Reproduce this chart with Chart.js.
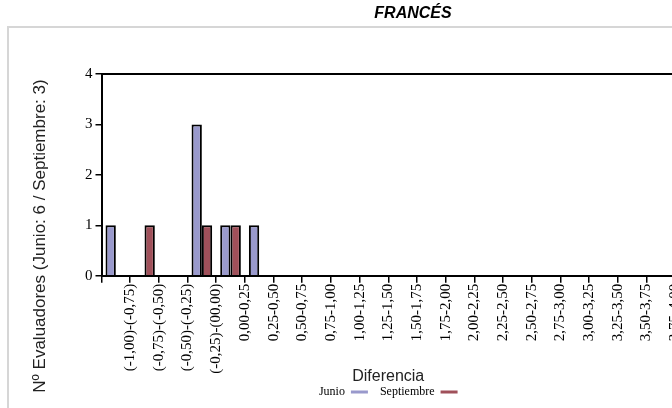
<!DOCTYPE html>
<html lang="es">
<head>
<meta charset="utf-8">
<title>Francés</title>
<script src="https://cdn.jsdelivr.net/npm/chart.js@4.4.1/dist/chart.umd.min.js"></script>
<style>
  html, body { margin: 0; padding: 0; background: #fff; }
  body { width: 672px; height: 408px; overflow: hidden; position: relative; }
  #marco { position: absolute; left: 7px; top: 26px; width: 800px; height: 500px; border: 2px solid #d6d6d6; }
  #grafico { position: absolute; left: 0; top: 0; }
</style>
</head>
<body>
<div id="marco"></div>
<canvas id="grafico" width="744" height="408"></canvas>
<script>
// rangos de diferencia (la imagen se corta a la derecha)
const etiquetas = [
  '(-1,00)-(-0,75)', '(-0,75)-(-0,50)', '(-0,50)-(-0,25)', '(-0,25)-(00,00)',
  '0,00-0,25', '0,25-0,50', '0,50-0,75', '0,75-1,00', '1,00-1,25', '1,25-1,50',
  '1,50-1,75', '1,75-2,00', '2,00-2,25', '2,25-2,50', '2,50-2,75', '2,75-3,00',
  '3,00-3,25', '3,25-3,50', '3,50-3,75', '3,75-4,00'
];
const junio      = [1, 0, 0, 3, 1, 1, 0, 0, 0, 0, 0, 0, 0, 0, 0, 0, 0, 0, 0, 0];
const septiembre = [0, 1, 0, 1, 1, 0, 0, 0, 0, 0, 0, 0, 0, 0, 0, 0, 0, 0, 0, 0];
const ticksY = [0, 1, 2, 3, 4];

const titulo = 'FRANCÉS';
const tituloY = 'Nº Evaluadores (Junio: 6 / Septiembre: 3)';
const tituloX = 'Diferencia';

const colorJunio = '#9999cc';
const colorSeptiembre = '#a0505a';
const serif = "'Liberation Serif', 'Times New Roman', serif";
const sans = "'Liberation Sans', Arial, sans-serif";

// el titulo del eje Y va centrado mas abajo que el area del grafico
const tituloEje = {
  id: 'tituloEje',
  afterDraw(chart) {
    const { ctx, chartArea } = chart;
    ctx.save();
    ctx.translate(chartArea.left - 61, (chartArea.top + chart.height - 10) / 2);
    ctx.rotate(-Math.PI / 2);
    ctx.font = '17px ' + sans;
    ctx.fillStyle = '#222';
    ctx.textAlign = 'center';
    ctx.textBaseline = 'middle';
    ctx.fillText(tituloY, 0, 0);
    ctx.restore();
  }
};

const ctx = document.getElementById('grafico');

const grafico = new Chart(ctx, {
  type: 'bar',
  data: {
    labels: etiquetas,
    datasets: [
      {
        label: 'Junio',
        data: junio,
        backgroundColor: colorJunio,
        borderColor: '#000',
        borderWidth: 2
      },
      {
        label: 'Septiembre',
        data: septiembre,
        backgroundColor: colorSeptiembre,
        borderColor: '#000',
        borderWidth: 2
      }
    ]
  },
  options: {
    responsive: false,
    animation: false,
    categoryPercentage: 0.72,
    barPercentage: 1.0,
    layout: { padding: { left: 82, right: 0, top: 0, bottom: 0 } },
    scales: {
      x: {
        grid: {
          display: true,
          drawOnChartArea: false,
          offset: true,
          tickLength: 7,
          color: '#000',
          lineWidth: 1.5
        },
        border: { color: '#000', width: 2 },
        ticks: {
          autoSkip: false,
          minRotation: 90,
          maxRotation: 90,
          labelOffset: 14.35,
          padding: 1,
          color: '#000',
          font: { family: serif, size: 15 }
        },
        title: {
          display: true,
          text: tituloX,
          color: '#222',
          font: { family: sans, size: 16 },
          padding: { top: -8, bottom: -12 }
        }
      },
      y: {
        min: 0,
        max: 4,
        afterBuildTicks: (escala) => { escala.ticks = ticksY.map(v => ({ value: v })); },
        grid: {
          drawOnChartArea: false,
          tickLength: 6,
          color: '#000',
          lineWidth: 1.5
        },
        border: { color: '#000', width: 2 },
        ticks: {
          padding: 3,
          color: '#000',
          font: { family: serif, size: 15 }
        }
      },
      // linea superior del area
      arriba: {
        type: 'linear',
        position: 'top',
        grid: { display: false },
        ticks: { display: false },
        border: { display: true, color: '#000', width: 2 }
      },
      // reserva a la derecha, el grafico sigue fuera de la imagen
      derecha: {
        type: 'linear',
        position: 'right',
        grid: { display: false },
        ticks: { display: false },
        border: { display: false },
        afterFit: (escala) => { escala.width = 69; }
      }
    },
    plugins: {
      title: {
        display: true,
        text: titulo,
        color: '#000',
        font: { family: sans, size: 16, weight: 'bold', style: 'italic' },
        padding: { top: 4.4, bottom: 42.4 }
      },
      legend: {
        position: 'bottom',
        fullSize: false,
        rtl: true,
        reverse: true,
        labels: {
          usePointStyle: true,
          pointStyle: 'line',
          pointStyleWidth: 17,
          padding: 12,
          color: '#000',
          font: { family: serif, size: 12 },
          generateLabels: (chart) => {
            const items = Chart.defaults.plugins.legend.labels.generateLabels(chart);
            items.forEach(it => { it.strokeStyle = it.fillStyle; it.lineWidth = 3; });
            return items;
          }
        }
      },
      tooltip: { enabled: false }
    }
  },
  plugins: [tituloEje]
});
</script>
</body>
</html>
